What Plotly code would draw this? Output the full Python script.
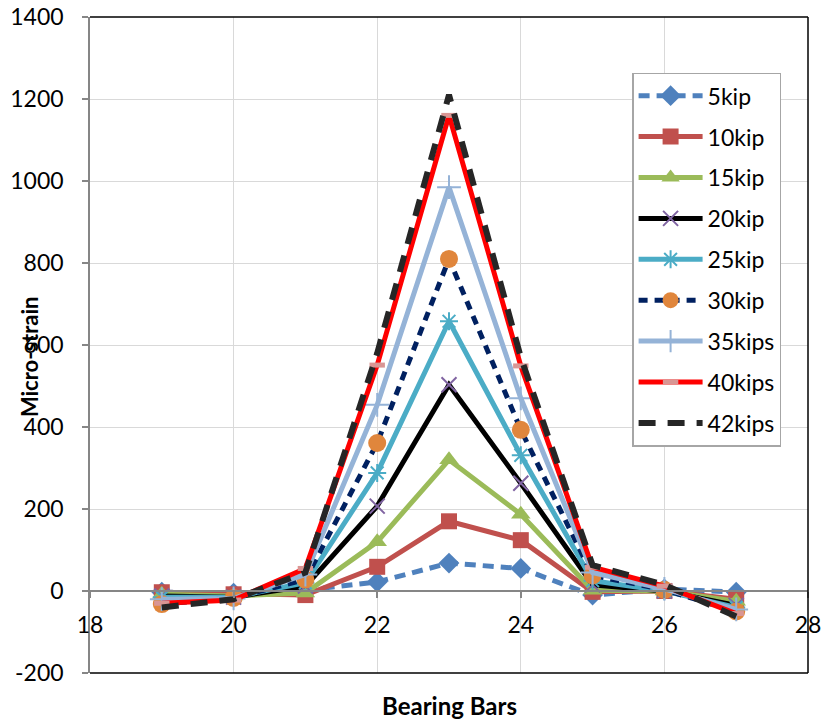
import plotly.graph_objects as go

# Bearing bar positions along the deck
bars = [19, 20, 21, 22, 23, 24, 25, 26, 27]

# Measured micro-strain per load step
s_5kip = [-3, -5, 2, 22, 68, 55, -10, 5, -3]
s_10kip = [-3, -8, -10, 59, 170, 124, -2, 0, -20]
s_15kip = [-8, -12, -5, 120, 320, 187, 2, 0, -25]
s_20kip = [-12, -15, 12, 207, 503, 263, 15, 0, -35]
s_25kip = [-15, -15, 20, 288, 658, 331, 25, 0, -40]
s_30kip = [-32, -17, 28, 361, 810, 393, 38, 3, -50]
s_35kips = [-20, -18, 40, 454, 985, 470, 45, 5, -45]
s_40kips = [-30, -22, 55, 551, 1160, 549, 58, 12, -55]
s_42kips = [-40, -20, 45, 580, 1210, 570, 63, 15, -62]

series_names = ["5kip", "10kip", "15kip", "20kip", "25kip", "30kip", "35kips", "40kips", "42kips"]

x_ticks = [18, 20, 22, 24, 26, 28]
y_ticks = [-200, 0, 200, 400, 600, 800, 1000, 1200, 1400]

styles = [
    dict(line=dict(color="#4F81BD", width=5, dash="11px,7px"),
         marker=dict(symbol="diamond", size=16, color="#4F81BD")),
    dict(line=dict(color="#C0504D", width=5),
         marker=dict(symbol="square", size=16, color="#C0504D")),
    dict(line=dict(color="#9BBB59", width=5),
         marker=dict(symbol="triangle-up", size=17, color="#9BBB59")),
    dict(line=dict(color="#000000", width=5),
         marker=dict(symbol="x-thin", size=15, color="#8064A2",
                     line=dict(color="#8064A2", width=2))),
    dict(line=dict(color="#4BACC6", width=5),
         marker=dict(symbol="asterisk", size=15, color="#4BACC6",
                     line=dict(color="#4BACC6", width=2))),
    dict(line=dict(color="#002060", width=5, dash="9px,7px"),
         marker=dict(symbol="circle", size=18, color="#E0863C")),
    dict(line=dict(color="#95B3D7", width=5),
         marker=dict(symbol="cross-thin", size=17, color="#95B3D7",
                     line=dict(color="#95B3D7", width=2))),
    dict(line=dict(color="#FF0000", width=5),
         marker=dict(symbol="line-ew", size=11, color="#D99694",
                     line=dict(color="#D99694", width=5))),
    dict(line=dict(color="#262626", width=6, dash="17px,12px"),
         marker=dict(size=1, opacity=0)),
]

all_series = [s_5kip, s_10kip, s_15kip, s_20kip, s_25kip, s_30kip, s_35kips, s_40kips, s_42kips]

fig = go.Figure()
for name, vals, st in zip(series_names, all_series, styles):
    mode = "lines" if name == "42kips" else "lines+markers"
    fig.add_trace(go.Scatter(x=bars, y=vals, name=name, mode=mode,
                             legendgroup=name, **st))

font_family = "Lato, 'Open Sans', sans-serif"
grid = "#D9D9D9"
axis_gray = "#868686"

fig.update_layout(
    width=824, height=723,
    margin=dict(l=90, r=16, t=17, b=50, autoexpand=False),
    paper_bgcolor="white", plot_bgcolor="white",
    font=dict(family=font_family, color="#000000", size=23),
    xaxis=dict(
        range=[18, 28], tickvals=x_ticks, ticktext=[str(v) for v in x_ticks],
        showgrid=True, gridcolor=grid, gridwidth=1.2,
        zeroline=False, showline=True, linecolor=axis_gray, linewidth=1.5,
        ticks="outside", ticklen=6, tickcolor=axis_gray, tickwidth=1.5,
        anchor="free", position=0.125, automargin=False,
        ticklabelstandoff=8,
        tickfont=dict(size=23),
    ),
    yaxis=dict(
        range=[-200, 1400], tickvals=y_ticks, ticktext=[str(v) for v in y_ticks],
        showgrid=True, gridcolor=grid, gridwidth=1.2,
        zeroline=False, showline=True, linecolor=axis_gray, linewidth=1.5,
        ticks="outside", ticklen=6, tickcolor=axis_gray, tickwidth=1.5,
        ticklabelstandoff=14, automargin=False,
        tickfont=dict(size=23),
    ),
    legend=dict(
        x=0.755, y=0.915, xanchor="left", yanchor="top",
        bordercolor="#A6A6A6", borderwidth=1.5, bgcolor="white",
        font=dict(size=23), tracegroupgap=8,
        itemwidth=64,
    ),
    showlegend=True,
    shapes=[
        dict(type="line", xref="paper", yref="paper", x0=0, x1=1, y0=1, y1=1,
             line=dict(color="#000000", width=1.5)),
        dict(type="line", xref="paper", yref="paper", x0=1, x1=1, y0=0, y1=1,
             line=dict(color="#000000", width=1.5)),
        dict(type="line", xref="paper", yref="paper", x0=0, x1=1, y0=0, y1=0,
             line=dict(color="#000000", width=1.5)),
    ],
    annotations=[
        dict(text="<b>Bearing Bars</b>", xref="paper", yref="paper",
             x=0.5, y=-0.049, xanchor="center", yanchor="middle",
             showarrow=False, font=dict(size=24)),
        dict(text="<b>Micro-strain</b>", xref="paper", yref="paper",
             x=-0.085, y=0.483, xanchor="center", yanchor="middle",
             textangle=-90, showarrow=False, font=dict(size=22)),
    ],
)

fig.write_html("out.html")
